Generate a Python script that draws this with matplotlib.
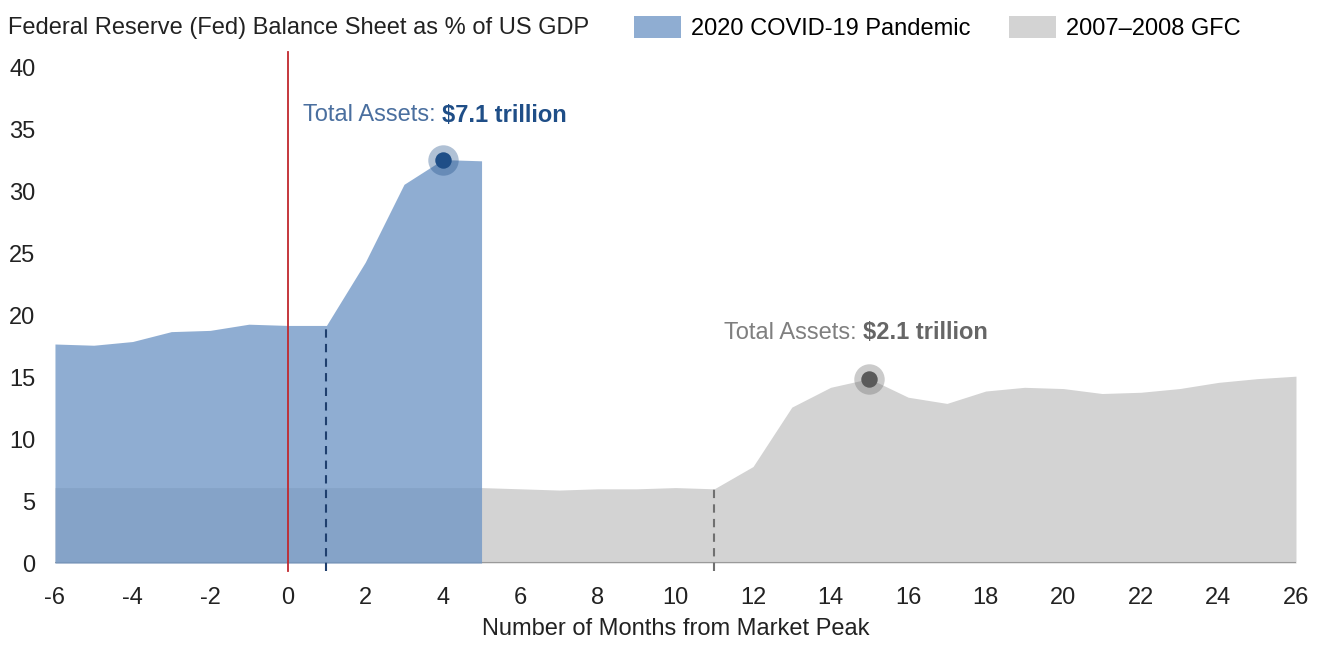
import matplotlib
matplotlib.use("Agg")
import matplotlib.pyplot as plt
from matplotlib import font_manager
from matplotlib.patches import Patch

names = {f.name for f in font_manager.fontManager.ttflist}
FONT = "Liberation Sans Narrow" if "Liberation Sans Narrow" in names else "Liberation Sans"
plt.rcParams['font.family'] = [FONT, 'DejaVu Sans']

# Data
covid_months = [-6, -5, -4, -3, -2, -1, 0, 1, 2, 3, 4, 5]
covid_values = [17.7, 17.6, 17.9, 18.7, 18.8, 19.3, 19.2, 19.2, 24.3, 30.6, 32.6, 32.5]

gfc_months = list(range(-6, 27))
gfc_values = [6.1, 6.1, 6.1, 6.1, 6.1, 6.1, 6.1, 6.1, 6.1, 6.1, 6.1, 6.1,
              6.0, 5.9, 6.0, 6.0, 6.1, 6.0,
              7.8, 12.6, 14.2, 14.9, 13.4, 12.9, 13.9, 14.2, 14.1, 13.7, 13.8, 14.1,
              14.6, 14.9, 15.1]

covid_peak = (4, 32.6)
gfc_peak = (15, 14.9)

series_names = ["2020 COVID-19 Pandemic", "2007\u20132008 GFC"]
title = "Federal Reserve (Fed) Balance Sheet as % of US GDP"
xlabel = "Number of Months from Market Peak"

BLUE = "#6E95C5"
GRAY = "#d3d3d3"

fig = plt.figure(figsize=(13.18, 6.45), dpi=100)
ax = fig.add_axes([0.0417, 0.127, 0.9416, 0.7676])

ax.fill_between(gfc_months, gfc_values, 0, color=GRAY, lw=0, zorder=1)
ax.fill_between(covid_months, covid_values, 0, color=BLUE, alpha=0.77, lw=0, zorder=2)
ax.axhline(0, color="#9a9a9a", lw=1.5, zorder=1.5)

# vertical lines
ax.plot([0, 0], [-0.6, 41.3], color="#c0272d", lw=1.3, zorder=4, clip_on=False)
ax.plot([1, 1], [-0.6, covid_values[covid_months.index(1)]], color="#1f3f6e",
        lw=1.5, ls=(0, (4, 3)), zorder=4, clip_on=False)
ax.plot([11, 11], [-0.6, gfc_values[gfc_months.index(11)]], color="#707070",
        lw=1.5, ls=(0, (4, 3)), zorder=4, clip_on=False)

# peak markers
ax.scatter([covid_peak[0]], [covid_peak[1]], s=480, color="#1f4e87", alpha=0.35, lw=0, zorder=5)
ax.scatter([covid_peak[0]], [covid_peak[1]], s=140, color="#1f4e87", lw=0, zorder=6)
ax.scatter([gfc_peak[0]], [gfc_peak[1]], s=480, color="#6a6a6a", alpha=0.35, lw=0, zorder=5)
ax.scatter([gfc_peak[0]], [gfc_peak[1]], s=140, color="#5a5a5a", lw=0, zorder=6)

# annotations
t1 = ax.text(0.4, 36.2, "Total Assets: ", color="#4a6f9f", fontsize=17, va="center", ha="left")
fig.canvas.draw()
ax.annotate("$7.1 trillion", xycoords=t1, xy=(1, 0.5), va="center", ha="left",
            color="#1f4e87", fontsize=17, fontweight="bold")
t2 = ax.text(11.25, 18.6, "Total Assets: ", color="#7f7f7f", fontsize=17, va="center", ha="left")
ax.annotate("$2.1 trillion", xycoords=t2, xy=(1, 0.5), va="center", ha="left",
            color="#666666", fontsize=17, fontweight="bold")

ax.set_xlim(-6, 26)
ax.set_ylim(0, 40)
ax.set_xticks(range(-6, 27, 2))
ax.set_xticklabels([str(v) for v in range(-6, 27, 2)])
ax.set_yticks(range(0, 41, 5))
ax.tick_params(axis="both", length=0, labelsize=17, colors="#222222")
ax.tick_params(axis="y", pad=14)
ax.tick_params(axis="x", pad=17)
for s in ax.spines.values():
    s.set_visible(False)
ax.set_xlabel(xlabel, fontsize=17, color="#222222", labelpad=7)

fig.text(0.006, 0.957, title, fontsize=17, color="#222222", va="center", ha="left")
handles = [Patch(color=BLUE, alpha=0.77, lw=0), Patch(color=GRAY, lw=0)]
fig.legend(handles, series_names, loc="center left", bbox_to_anchor=(0.472, 0.957),
           ncol=2, frameon=False, fontsize=17, handlelength=2.0, handleheight=1.1,
           handletextpad=0.4, columnspacing=1.65, borderpad=0)

fig.savefig("out.png", dpi=100)
